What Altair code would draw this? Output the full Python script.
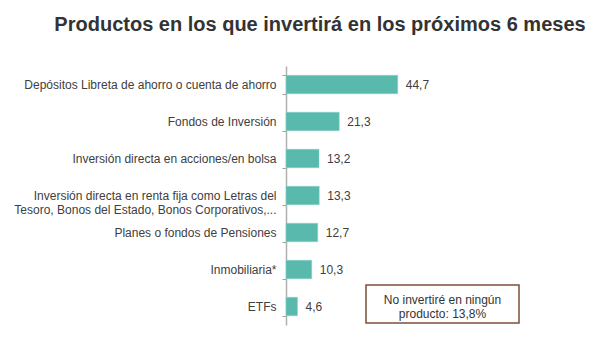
import altair as alt
import pandas as pd

title_text = "Productos en los que invertirá en los próximos 6 meses"
categories = [
    "Depósitos Libreta de ahorro o cuenta de ahorro",
    "Fondos de Inversión",
    "Inversión directa en acciones/en bolsa",
    "Inversión directa en renta fija como Letras del|Tesoro, Bonos del Estado, Bonos Corporativos,...",
    "Planes o fondos de Pensiones",
    "Inmobiliaria*",
    "ETFs",
]
values = [44.7, 21.3, 13.2, 13.3, 12.7, 10.3, 4.6]
value_labels = ["44,7", "21,3", "13,2", "13,3", "12,7", "10,3", "4,6"]
note_lines = ["No invertiré en ningún", "producto: 13,8%"]

df = pd.DataFrame({"cat": categories, "val": values, "lab": value_labels})

FONT = "Liberation Sans"
TEAL = "#59B9AD"
GREY_TXT = "#404040"

y_enc = alt.Y(
    "cat:N",
    sort=categories,
    title=None,
    scale=alt.Scale(paddingInner=0.5, paddingOuter=0.25),
    axis=alt.Axis(
        labelExpr="split(datum.label, '|')",
        labelFont=FONT,
        labelFontSize=12,
        labelColor=GREY_TXT,
        labelPadding=6,
        labelLineHeight=14,
        labelLimit=300,
        domainColor="#b0b0b0",
        domainWidth=1.5,
        tickColor="#a0a0a0",
        tickSize=4,
        tickWidth=1,
        tickBand="extent",
    ),
)
x_enc = alt.X("val:Q", scale=alt.Scale(domain=[0, 100]), axis=None)

bars = alt.Chart(df).mark_bar(color=TEAL, stroke="#8fd3ca", strokeWidth=0.5).encode(x=x_enc, y=y_enc)
texts = alt.Chart(df).mark_text(
    align="left", baseline="middle", dx=8, font=FONT, fontSize=12, color=GREY_TXT
).encode(x=x_enc, y=alt.Y("cat:N", sort=categories), text="lab:N")

box = alt.Chart(pd.DataFrame({"a": [0]})).mark_rect(
    fill="white", stroke="#7d4e38", strokeWidth=1.5
).encode(x=alt.value(80), x2=alt.value(233), y=alt.value(219), y2=alt.value(257))

note = alt.Chart(pd.DataFrame({"t": [note_lines]})).mark_text(
    align="center", baseline="middle", font=FONT, fontSize=12, color="#333333", lineHeight=14
).encode(x=alt.value(156.5), y=alt.value(234), text="t")

title = alt.Chart(pd.DataFrame({"t": [title_text]})).mark_text(
    align="center", baseline="alphabetic", font=FONT, fontSize=20, fontWeight="bold", color="#333333"
).encode(x=alt.value(34), y=alt.value(-35), text="t")

chart = alt.layer(bars, texts, box, note, title).properties(
    width=250,
    height=259,
    background="white",
    autosize=alt.AutoSizeParams(type="none"),
    padding={"left": 286, "top": 66, "right": 58, "bottom": 32},
).configure_view(strokeWidth=0, stroke="transparent")

chart.save("out.html", embed_options={"renderer": "svg", "actions": False})
